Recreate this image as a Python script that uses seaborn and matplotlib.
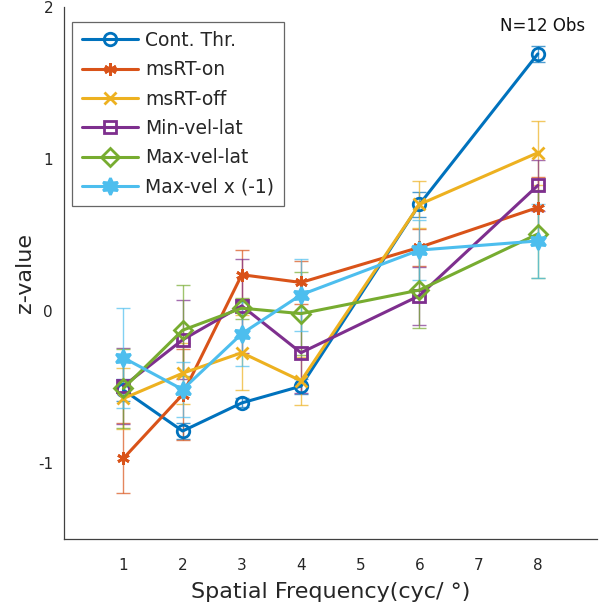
import numpy as np
import pandas as pd
import matplotlib
matplotlib.use("Agg")
import matplotlib.pyplot as plt
import seaborn as sns

freqs = [1, 2, 3, 4, 6, 8]
series_names = ["Cont. Thr.", "msRT-on", "msRT-off", "Min-vel-lat", "Max-vel-lat", "Max-vel x (-1)"]

cont_thr = [-0.52, -0.79, -0.605, -0.495, 0.70, 1.69]
msrt_on = [-0.97, -0.55, 0.238, 0.187, 0.418, 0.68]
msrt_off = [-0.576, -0.41, -0.275, -0.46, 0.70, 1.04]
min_vel_lat = [-0.495, -0.19, 0.033, -0.275, 0.10, 0.825]
max_vel_lat = [-0.51, -0.127, 0.018, -0.018, 0.137, 0.506]
max_vel_neg = [-0.308, -0.517, -0.15, 0.106, 0.40, 0.46]

err_cont_thr = [0.07, 0.05, 0.03, 0.05, 0.08, 0.05]
err_msrt_on = [0.23, 0.30, 0.16, 0.14, 0.12, 0.20]
err_msrt_off = [0.20, 0.20, 0.245, 0.16, 0.155, 0.21]
err_min_vel_lat = [0.25, 0.26, 0.31, 0.265, 0.19, 0.17]
err_max_vel_lat = [0.26, 0.30, 0.07, 0.275, 0.25, 0.29]
err_max_vel_neg = [0.33, 0.18, 0.21, 0.235, 0.20, 0.245]

values = [cont_thr, msrt_on, msrt_off, min_vel_lat, max_vel_lat, max_vel_neg]
errors = [err_cont_thr, err_msrt_on, err_msrt_off, err_min_vel_lat, err_max_vel_lat, err_max_vel_neg]

colors = ["#0072BD", "#D95319", "#EDB120", "#7E2F8E", "#77AC30", "#4DBEEE"]
markers = ["o", (6, 2, 0), "x", "s", "D", (6, 1, 0)]
msizes = [9, 9, 8, 8, 9, 12]
filled = [False, True, True, False, False, True]

rows = []
for name, vals, errs in zip(series_names, values, errors):
    for f, v, e in zip(freqs, vals, errs):
        rows.append({"freq": f, "z": v, "err": e, "series": name})
df = pd.DataFrame(rows)

sns.set_style("white")
plt.rcParams["font.family"] = ["DejaVu Sans"]

fig = plt.figure(figsize=(6.0, 6.16), dpi=100)
ax = fig.add_axes([0.107, 0.125, 0.888, 0.864])

for i, name in enumerate(series_names):
    sub = df[df["series"] == name]
    ax.errorbar(sub["freq"], sub["z"], yerr=sub["err"], fmt="none",
                ecolor=colors[i], elinewidth=1.0, capsize=5, capthick=1.0,
                alpha=0.7, zorder=2)

for i, name in enumerate(series_names):
    sub = df[df["series"] == name]
    mfc = colors[i] if filled[i] else "none"
    sns.lineplot(data=sub, x="freq", y="z", ax=ax, color=colors[i],
                 linewidth=2.2, marker=markers[i], markersize=msizes[i],
                 markerfacecolor=mfc, markeredgecolor=colors[i],
                 markeredgewidth=2.0, label=name, zorder=3 + i)

ax.set_xlim(0, 9)
ax.set_ylim(-1.5, 2)
ax.set_xticks([1, 2, 3, 4, 5, 6, 7, 8])
ax.set_yticks([-1, 0, 1, 2])
ax.set_yticklabels(["-1", "0", "1", "2"])
ax.tick_params(axis="both", direction="in", length=5, width=0.8,
               labelsize=11, colors="#262626", pad=8)
ax.tick_params(axis="x", pad=14)
for s in ["top", "right"]:
    ax.spines[s].set_visible(False)
for s in ["left", "bottom"]:
    ax.spines[s].set_color("#404040")
    ax.spines[s].set_linewidth(0.9)

ax.set_xlabel("Spatial Frequency(cyc/ °)", fontsize=16, color="#262626", labelpad=6)
ax.set_ylabel("z-value", fontsize=16, color="#262626", labelpad=2)

ax.text(8.08, 1.875, "N=12 Obs", fontsize=12, ha="center", va="center", color="#111111")

leg = ax.legend(loc="upper left", bbox_to_anchor=(0.015, 0.972), borderaxespad=0,
                fontsize=13.5, frameon=True, fancybox=False, edgecolor="#404040",
                handlelength=3.0, borderpad=0.5, labelspacing=0.55,
                handletextpad=0.4)
leg.get_frame().set_linewidth(0.9)

fig.savefig("out.png", dpi=100)
